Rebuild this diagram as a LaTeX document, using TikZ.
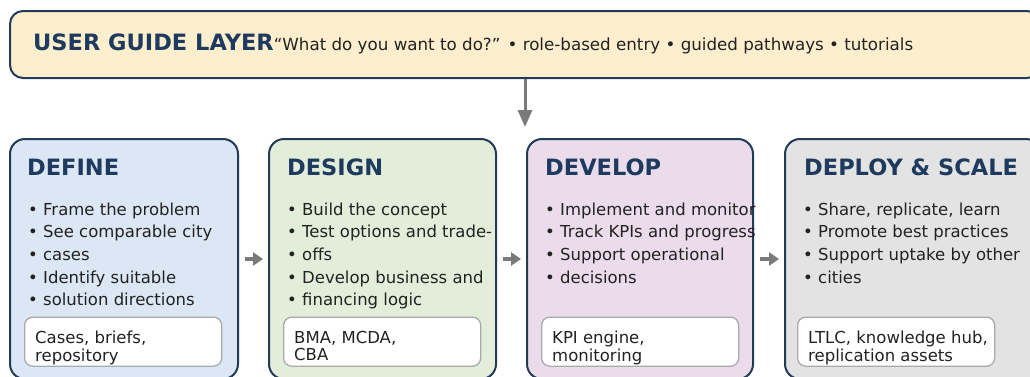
\documentclass[tikz,border=0pt]{standalone}
\usepackage{fontspec}
\setmainfont{DejaVu Sans}
\usetikzlibrary{arrows.meta}
\definecolor{navy}{HTML}{1E3A5F}
\definecolor{edge}{HTML}{243B58}
\definecolor{txt}{HTML}{222222}
\definecolor{guidefill}{HTML}{FDEFCD}
\definecolor{deffill}{HTML}{DBE7F4}
\definecolor{desfill}{HTML}{E2EED9}
\definecolor{devfill}{HTML}{EBDCEC}
\definecolor{depfill}{HTML}{E3E3E3}
\definecolor{arr}{HTML}{7A7A7A}
\definecolor{tooledge}{HTML}{AAAAAA}
\tikzset{
  guidebox/.style={draw=edge, line width=2pt, rounded corners=13pt, fill=guidefill, inner sep=0pt, anchor=north west},
  phasebox/.style={draw=edge, line width=2pt, rounded corners=15pt, inner sep=0pt, anchor=north west, minimum height=240pt},
  toolbox/.style={draw=tooledge, line width=1.3pt, rounded corners=8pt, fill=white, inner sep=0pt, anchor=north west, minimum width=197pt, minimum height=49pt},
  phasetitle/.style={anchor=base west, inner sep=0pt, text=navy, font=\fontsize{22.5}{27}\selectfont\bfseries},
  bullets/.style={anchor=north west, inner sep=0pt, align=left, text=txt, font=\fontsize{16.5}{22.6}\selectfont},
  tooltext/.style={anchor=north west, inner sep=0pt, align=left, text=txt, font=\fontsize{16.5}{17.5}\selectfont},
  harrow/.style={draw=arr, line width=4pt, -{Triangle[length=10pt,width=13pt]}, shorten <=6pt, shorten >=5pt},
  varrow/.style={draw=arr, line width=3pt, -{Triangle[length=17pt,width=14pt]}}
}
\begin{document}
\begin{tikzpicture}[x=1pt,y=-1pt]
\useasboundingbox (0,0) rectangle (1030,376);
\clip (0,0) rectangle (1030,376);
\fill[white] (0,0) rectangle (1030,376);

% user guide layer
\node[guidebox, minimum width=1030pt, minimum height=67pt] (guide) at (9,10) {};
\node[anchor=base west, inner sep=0pt, text=txt] (guidetxt) at (33,50)
  {{\fontsize{22.5}{27}\selectfont\bfseries\color{navy}USER GUIDE LAYER}{\fontsize{16.7}{20}\selectfont“What do you want to do?” • role-based entry • guided pathways • tutorials}};
\coordinate (guidetip) at ([yshift=-48pt]guide.south);
\draw[varrow] (guide.south) -- (guidetip);

% phase boxes
\node[phasebox, fill=deffill, minimum width=228pt] (define) at (9,138) {};
\node[phasebox, fill=desfill, minimum width=227pt] (design) at (268,138) {};
\node[phasebox, fill=devfill, minimum width=226pt] (develop) at (526,138) {};
\node[phasebox, fill=depfill, minimum width=256pt] (deploy) at (784,138) {};

% titles
\node[phasetitle] (deftitle) at (27,175) {DEFINE};
\node[phasetitle] (destitle) at (287,175) {DESIGN};
\node[phasetitle] (devtitle) at (545,175) {DEVELOP};
\node[phasetitle] (deptitle) at (804,175) {DEPLOY \& SCALE};

% bullets
\node[bullets] (defbul) at (28,202.5) {• Frame the problem\\• See comparable city\\• cases\\• Identify suitable\\• solution directions};
\node[bullets] (desbul) at (287,202.5) {• Build the concept\\• Test options and trade-\\• offs\\• Develop business and\\• financing logic};
\node[bullets] (devbul) at (545,202.5) {• Implement and monitor\\• Track KPIs and progress\\• Support operational\\• decisions};
\node[bullets] (depbul) at (803,202.5) {• Share, replicate, learn\\• Promote best practices\\• Support uptake by other\\• cities};

% tool boxes
\node[toolbox] (deftool) at (24,316.5) {};
\node[toolbox] (destool) at (283,316.5) {};
\node[toolbox] (devtool) at (541,316.5) {};
\node[toolbox] (deptool) at (797,316.5) {};
\node[tooltext] (deftooltxt) at (35,331) {Cases, briefs,\\repository};
\node[tooltext] (destooltxt) at (294,331) {BMA, MCDA,\\CBA};
\node[tooltext] (devtooltxt) at (552,331) {KPI engine,\\monitoring};
\node[tooltext] (deptooltxt) at (808,331) {LTLC, knowledge hub,\\replication assets};

% flow arrows
\draw[harrow] (define.east) -- (design.west);
\draw[harrow] (design.east) -- (develop.west);
\draw[harrow] (develop.east) -- (deploy.west);
\end{tikzpicture}
\end{document}
